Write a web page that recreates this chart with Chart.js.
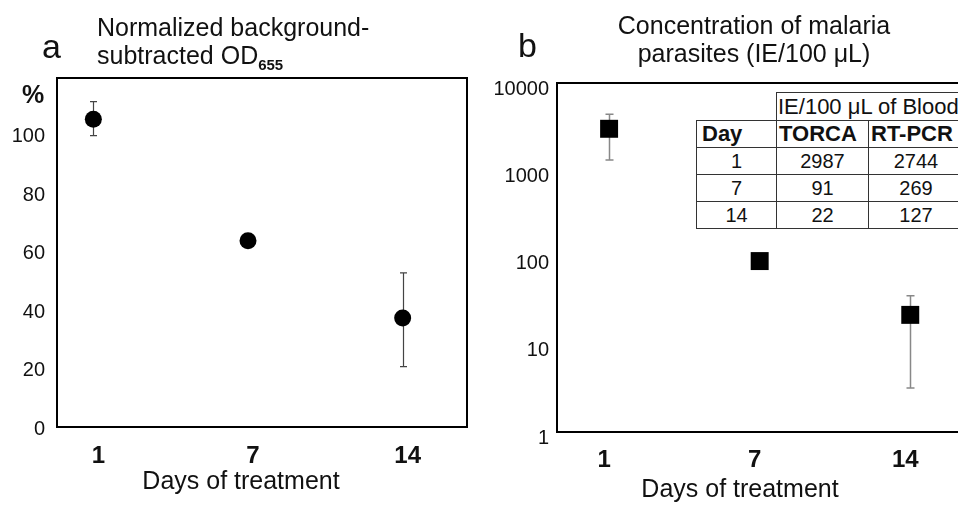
<!DOCTYPE html>
<html>
<head>
<meta charset="utf-8">
<script src="https://cdn.jsdelivr.net/npm/chart.js@4.4.0/dist/chart.umd.min.js"></script>
<style>
  html, body { margin: 0; padding: 0; background: #fff; }
  body { position: relative; width: 958px; height: 506px; overflow: hidden;
         font-family: "Liberation Sans", Arial, sans-serif; color: #111; }
  canvas { position: absolute; top: 0; }
  #chartA { left: 0; }
  #chartB { left: 480px; }
  .txt { position: absolute; white-space: nowrap; z-index: 2; }
  .title { font-size: 25px; line-height: 28px; }
  .letter { font-size: 34px; line-height: 34px; }
  .xtitle { font-size: 25px; line-height: 28px; width: 400px; text-align: center; }
  #tbl { position: absolute; left: 696px; top: 92px; width: 275px; z-index: 2; background: #fff;
         border-collapse: collapse; table-layout: fixed; }
  #tbl td, #tbl th { border: 1px solid #333; padding: 0; height: 26px; font-size: 20px;
                     text-align: center; font-weight: normal; white-space: nowrap; }
  #tbl th { font-weight: bold; font-size: 22px; text-align: left; padding-left: 2px; }
  #tbl td.blank { border: none; background: #fff; }
  #tbl td.hdr { text-align: left; padding-left: 1px; font-size: 22px; height: 27px; }
</style>
</head>
<body>
<canvas id="chartA" width="480" height="506"></canvas>
<canvas id="chartB" width="520" height="506"></canvas>

<div class="txt letter" style="left:42px; top:29px;">a</div>
<div class="txt title" style="left:97px; top:13px;">Normalized background-<br>subtracted OD<span style="font-size:15px; font-weight:bold; vertical-align:-6px;">655</span></div>
<div class="txt" style="left:22px; top:80px; font-size:25px; line-height:28px; font-weight:bold;">%</div>
<div class="txt xtitle" style="left:41px; top:466px;">Days of treatment</div>

<div class="txt letter" style="left:518px; top:28px;">b</div>
<div class="txt title" style="left:554px; top:11px; width:400px; text-align:center;">Concentration of malaria<br>parasites (IE/100 μL)</div>
<div class="txt xtitle" style="left:540px; top:474px;">Days of treatment</div>

<table id="tbl">
  <colgroup><col style="width:80px"><col style="width:92px"><col style="width:103px"></colgroup>
  <tbody id="tblBody">
    <tr><td class="blank"></td><td class="hdr" colspan="2">IE/100 μL of Blood</td></tr>
    <tr><th style="padding-left:5px">Day</th><th>TORCA</th><th>RT-PCR</th></tr>
  </tbody>
</table>

<script>
// x positions are category indices; labels are the treatment days
const dayLabels = ['1', '7', '14'];
const dayIndex = [0, 1, 2];

// panel a: normalized OD655, %
const odPercent = [105.4, 63.8, 37.3];
const odErrLow = [99.8, null, 20.7];
const odErrHigh = [111.4, null, 52.8];
const odTicks = [0, 20, 40, 60, 80, 100];

// panel b: parasites, IE/100 uL (log axis)
const parasites = [2987, 91, 22];
const parasiteErrLow = [1310, null, 3.2];
const parasiteErrHigh = [4380, null, 36.5];
const parasiteTicks = [1, 10, 100, 1000, 10000];

// inset table
const tableDays = ['1', '7', '14'];
const tableTorca = [2987, 91, 22];
const tableRtpcr = [2744, 269, 127];

const tbody = document.getElementById('tblBody');
tableDays.forEach((d, i) => {
  const tr = document.createElement('tr');
  [d, tableTorca[i], tableRtpcr[i]].forEach((v, j) => {
    const td = document.createElement('td');
    td.textContent = v;
    if (j === 2) td.style.paddingRight = '8px';
    tr.appendChild(td);
  });
  tbody.appendChild(tr);
});

const FONT = '"Liberation Sans", Arial, sans-serif';

// vertical error bars with caps, drawn under the markers
const errorBars = {
  id: 'errorBars',
  beforeDatasetsDraw(chart, args, opts) {
    const { ctx, scales: { x, y } } = chart;
    const ds = chart.data.datasets[0];
    ctx.save();
    ctx.strokeStyle = opts.color;
    ctx.lineWidth = opts.width;
    ds.errLow.forEach((lo, i) => {
      const hi = ds.errHigh[i];
      if (lo == null || hi == null) return;
      const px = Math.round(x.getPixelForValue(ds.data[i].x)) + 0.5;
      const yLo = y.getPixelForValue(lo);
      const yHi = y.getPixelForValue(hi);
      ctx.beginPath();
      ctx.moveTo(px, yLo); ctx.lineTo(px, yHi);
      ctx.moveTo(px - opts.cap, yLo); ctx.lineTo(px + opts.cap, yLo);
      ctx.moveTo(px - opts.cap, yHi); ctx.lineTo(px + opts.cap, yHi);
      ctx.stroke();
    });
    ctx.restore();
  }
};

// closed black box round the plot area
const frame = {
  id: 'frame',
  afterDraw(chart) {
    const { ctx, chartArea: { left, top, right, bottom } } = chart;
    ctx.save();
    ctx.strokeStyle = '#000';
    ctx.lineWidth = 2;
    ctx.strokeRect(left, top, right - left, bottom - top);
    ctx.restore();
  }
};

function xScale(min, max, height, pad, offset) {
  return {
    type: 'linear', min, max,
    afterFit(s) { s.height = height; },
    afterBuildTicks(s) { s.ticks = dayIndex.map(v => ({ value: v })); },
    grid: { display: false, drawTicks: false },
    border: { display: false },
    ticks: {
      padding: pad, labelOffset: offset, maxRotation: 0, autoSkip: false,
      color: '#111', font: { family: FONT, size: 24, weight: 'bold' },
      callback: v => dayLabels[v]
    }
  };
}

new Chart(document.getElementById('chartA'), {
  type: 'scatter',
  data: {
    datasets: [{
      data: dayIndex.map((x, i) => ({ x, y: odPercent[i] })),
      errLow: odErrLow, errHigh: odErrHigh,
      pointStyle: 'circle', pointRadius: 8.5, pointHoverRadius: 8.5,
      backgroundColor: '#000', borderWidth: 0
    }]
  },
  options: {
    responsive: false, animation: false,
    layout: { padding: { left: 0, top: 78, right: 13, bottom: 0 } },
    plugins: { legend: { display: false }, tooltip: { enabled: false },
               errorBars: { color: '#444', width: 1.2, cap: 3.5 } },
    scales: {
      x: xScale(-0.235, 2.416, 79, 15, 5),
      y: {
        min: 0, max: 119.5,
        afterFit(s) { s.width = 57; },
        afterBuildTicks(s) { s.ticks = odTicks.map(v => ({ value: v })); },
        grid: { display: false, drawTicks: false },
        border: { display: false },
        ticks: { padding: 12, labelOffset: 2, color: '#111', font: { family: FONT, size: 20 } }
      }
    }
  },
  plugins: [errorBars, frame]
});

new Chart(document.getElementById('chartB'), {
  type: 'scatter',
  data: {
    datasets: [{
      data: dayIndex.map((x, i) => ({ x, y: parasites[i] })),
      errLow: parasiteErrLow, errHigh: parasiteErrHigh,
      pointStyle: 'rect', pointRadius: 12.7, pointHoverRadius: 12.7,
      backgroundColor: '#000', borderWidth: 0
    }]
  },
  options: {
    responsive: false, animation: false,
    layout: { padding: { left: 0, top: 83, right: 25, bottom: 0 } },
    plugins: { legend: { display: false }, tooltip: { enabled: false },
               errorBars: { color: '#888', width: 1.5, cap: 4 } },
    scales: {
      x: xScale(-0.346, 2.43, 74, 14, -5),
      y: {
        type: 'logarithmic', min: 1, max: 10000,
        afterFit(s) { s.width = 77; },
        afterBuildTicks(s) { s.ticks = parasiteTicks.map(v => ({ value: v })); },
        grid: { display: false, drawTicks: false },
        border: { display: false },
        ticks: { padding: 8, labelOffset: 6, color: '#111', font: { family: FONT, size: 20 },
                 callback: v => String(v) }
      }
    }
  },
  plugins: [errorBars, frame]
});
</script>
</body>
</html>
